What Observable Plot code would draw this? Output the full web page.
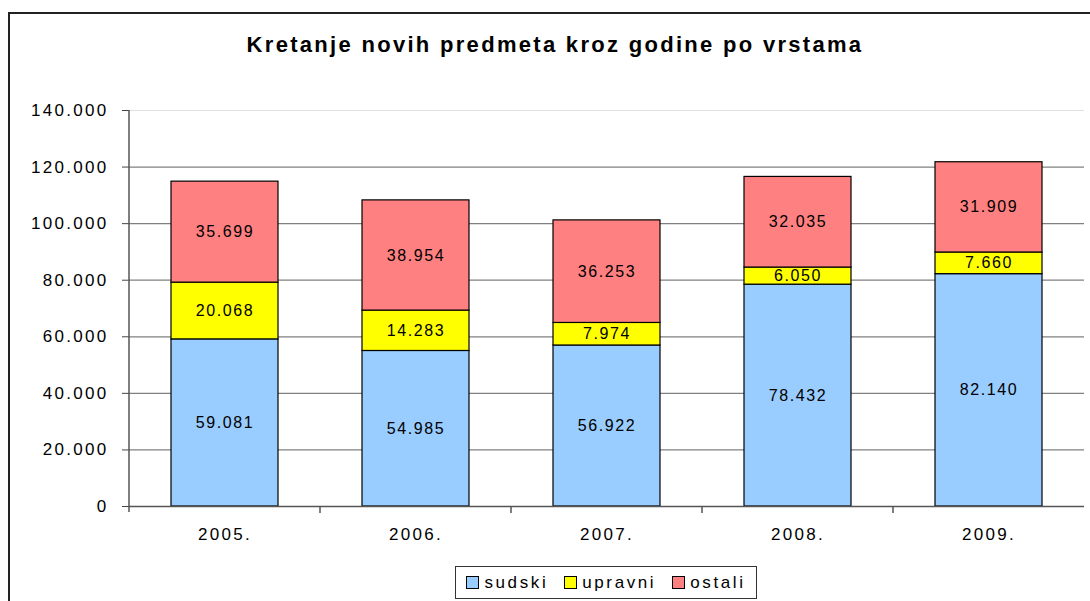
<!DOCTYPE html>
<html><head><meta charset="utf-8">
<script src="https://cdn.jsdelivr.net/npm/d3@7"></script>
<script src="https://cdn.jsdelivr.net/npm/@observablehq/plot@0.6"></script>
<style>
html,body{margin:0;padding:0;background:#fff;width:1090px;height:601px;overflow:hidden;font-family:"Liberation Sans",Arial,sans-serif;}
#frame{position:absolute;left:8px;top:12px;width:1200px;height:700px;border:2px solid #222;box-sizing:border-box;}
#title{position:absolute;left:0;top:32px;width:1110px;text-align:center;font-weight:bold;font-size:22px;letter-spacing:2.3px;color:#000;}
#chart{position:absolute;left:0;top:0;}
#legend{position:absolute;left:455px;top:566px;width:302px;height:33px;border:1px solid #333;box-sizing:border-box;display:flex;align-items:center;justify-content:center;gap:16px;font-size:17px;letter-spacing:2.6px;}
.item{display:flex;align-items:center;gap:5px;}
.sw{width:11px;height:11px;border:1px solid #000;display:inline-block;}
</style></head>
<body>
<div id="frame"></div>
<div id="chart"></div>
<div id="title">Kretanje novih predmeta kroz godine po vrstama</div>
<div id="legend"></div>
<script>
const years = ["2005.", "2006.", "2007.", "2008.", "2009."];
const seriesNames = ["sudski", "upravni", "ostali"];
const seriesColors = ["#99CCFF", "#FFFF00", "#FF8080"];
const sudski = [59081, 54985, 56922, 78432, 82140];
const upravni = [20068, 14283, 7974, 6050, 7660];
const ostali = [35699, 38954, 36253, 32035, 31909];
const yTicks = [0, 20000, 40000, 60000, 80000, 100000, 120000, 140000];

const seriesValues = [sudski, upravni, ostali];
const data = [];
seriesNames.forEach((s, si) => years.forEach((y, i) => data.push({year: y, series: s, value: seriesValues[si][i]})));

const fmt = d3.formatLocale({decimal: ",", thousands: ".", grouping: [3], currency: ["", ""]}).format(",d");

const chart = Plot.plot({
  width: 1090, height: 601,
  marginLeft: 129, marginRight: 6, marginTop: 110, marginBottom: 95,
  style: {fontFamily: "'Liberation Sans', Arial, sans-serif", fontSize: "17px", color: "#000", background: "transparent"},
  x: {domain: years, paddingInner: 0.44, paddingOuter: 0.22},
  y: {domain: [0, 140000]},
  color: {domain: seriesNames, range: seriesColors},
  marks: [
    Plot.ruleY(yTicks.filter(d => d > 0 && d < 140000), {stroke: "#808080", strokeWidth: 1.2}),
    Plot.ruleY([140000], {stroke: "#e0e0e0", strokeWidth: 1}),
    Plot.barY(data, Plot.stackY({x: "year", y: "value", z: "series", fill: "series", order: seriesNames, stroke: "#000", strokeWidth: 1.2})),
    Plot.text(data, Plot.stackY({x: "year", y: "value", z: "series", order: seriesNames, text: d => fmt(d.value), fontSize: 16, fill: "#000", dy: 0, className: "barlabel"})),
    Plot.axisY({ticks: yTicks, tickFormat: fmt, tickSize: 7, tickPadding: 14, stroke: "#444", fontSize: 17, label: null, className: "axlab"}),
    Plot.axisX({tickSize: 0, tickPadding: 21, fontSize: 17, label: null, className: "axlab"}),
    Plot.ruleY([0], {stroke: "#555", strokeWidth: 1.5})
  ]
});
document.getElementById("chart").appendChild(chart);

d3.select(chart).selectAll(".barlabel text").style("letter-spacing", "1.6px");
d3.select(chart).selectAll(".axlab text").style("letter-spacing", "2.3px");

// vertical axis line and boundary ticks using library scales
const xs = chart.scale("x");
const ys = chart.scale("y");
const step = xs.step, bw = xs.bandwidth;
const svg = d3.select(chart);
const y0 = ys.apply(0), yTop = ys.apply(140000);
const bounds = years.map(y => xs.apply(y) - (step - bw) / 2);
bounds.push(xs.apply(years[years.length - 1]) + bw + (step - bw) / 2);
svg.append("line").attr("x1", bounds[0]).attr("x2", bounds[0]).attr("y1", yTop).attr("y2", y0 + 6).attr("stroke", "#555").attr("stroke-width", 1.5);
bounds.slice(1, -1).forEach(b => svg.append("line").attr("x1", b).attr("x2", b).attr("y1", y0).attr("y2", y0 + 7).attr("stroke", "#555").attr("stroke-width", 1.5));

const lg = d3.select("#legend");
seriesNames.forEach((s, i) => {
  const it = lg.append("div").attr("class", "item");
  it.append("span").attr("class", "sw").style("background", seriesColors[i]);
  it.append("span").text(s);
});
</script>
</body></html>
